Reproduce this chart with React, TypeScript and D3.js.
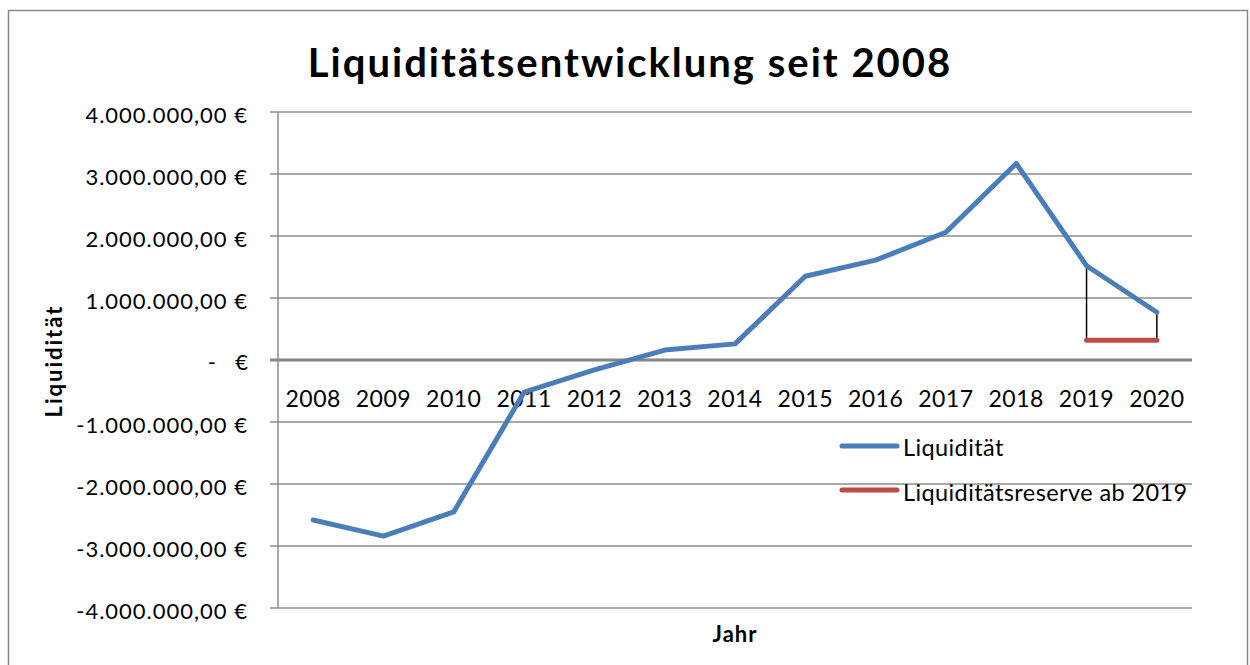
import React from "react";
import * as d3 from "d3";

const years = ["2008","2009","2010","2011","2012","2013","2014","2015","2016","2017","2018","2019","2020"];
const liquiditaet = [-2580000, -2840000, -2450000, -520000, -160000, 160000, 260000, 1350000, 1610000, 2060000, 3170000, 1520000, 770000];
const reserve: (number | null)[] = [null, null, null, null, null, null, null, null, null, null, null, 320000, 320000];
const yTicks = [4000000, 3000000, 2000000, 1000000, 0, -1000000, -2000000, -3000000, -4000000];
const seriesNames = ["Liquidität", "Liquiditätsreserve ab 2019"];

const W = 1250, H = 665;
const plot = { left: 278, right: 1192, top: 112, bottom: 608 };
const FONT = "Lato, 'DejaVu Sans', sans-serif";
const BLUE = "#4A7EBB";
const RED = "#BE4B48";
const GRID = "#8c8c8c";

function fmt(v: number) {
  if (v === 0) return null;
  const s = d3.format(",.2f")(Math.abs(v)).replace(/,/g, "#").replace(".", ",").replace(/#/g, ".");
  return (v < 0 ? "-" : "") + s + " €";
}

export default function App() {
  const x = d3.scaleBand().domain(years).range([plot.left, plot.right]);
  const y = d3.scaleLinear().domain([-4000000, 4000000]).range([plot.bottom, plot.top]);
  const cx = (yr: string) => (x(yr) ?? 0) + x.bandwidth() / 2;

  const line = d3.line<number>().x((_, i) => cx(years[i])).y((d) => y(d));
  const resLine = d3
    .line<number | null>()
    .defined((d) => d !== null)
    .x((_, i) => cx(years[i]))
    .y((d) => y(d as number));

  return (
    <svg width={W} height={H} style={{ position: "absolute", left: 0, top: 0, background: "#fff" }} fontFamily={FONT}>
      <rect x={0} y={0} width={W} height={H} fill="#fff" />
      <rect x={8.5} y={10.5} width={1239} height={H + 10} fill="none" stroke="#888" strokeWidth={1.5} />
      <text x={630} y={77} textAnchor="middle" fontSize={40} fontWeight="bold" letterSpacing={2} fill="#000">
        Liquiditätsentwicklung seit 2008
      </text>

      {/* grid lines */}
      {yTicks.map((t) => (
        <line
          key={t}
          x1={plot.left - 8}
          x2={plot.right}
          y1={y(t)}
          y2={y(t)}
          stroke={t === 0 ? "#848484" : GRID}
          strokeWidth={t === 0 ? 3 : 1.5}
        />
      ))}
      <line x1={plot.left} x2={plot.left} y1={plot.top} y2={plot.bottom} stroke={GRID} strokeWidth={1.5} />

      {/* y tick labels */}
      {yTicks.map((t) =>
        t === 0 ? (
          <g key={t} fontSize={22} fill="#000">
            <text x={216} y={y(t) + 10} textAnchor="end">-</text>
            <text x={248} y={y(t) + 10} textAnchor="end">€</text>
          </g>
        ) : (
          <text key={t} x={248} y={y(t) + 11} textAnchor="end" fontSize={22} letterSpacing={1} fill="#000">
            {fmt(t)}
          </text>
        )
      )}

      {/* category labels */}
      {years.map((yr) => (
        <text key={yr} x={cx(yr)} y={407} textAnchor="middle" fontSize={23} letterSpacing={0.5} fill="#000">
          {yr}
        </text>
      ))}

      {/* axis titles */}
      <text x={0} y={0} transform={`translate(62,361) rotate(-90)`} textAnchor="middle" fontSize={22} letterSpacing={2} fontWeight="bold">
        Liquidität
      </text>
      <text x={(plot.left + plot.right) / 2} y={642} textAnchor="middle" fontSize={22} letterSpacing={1} fontWeight="bold">
        Jahr
      </text>

      {/* high-low lines */}
      {years.map((yr, i) =>
        reserve[i] !== null ? (
          <line key={yr} x1={cx(yr)} x2={cx(yr)} y1={y(liquiditaet[i])} y2={y(reserve[i] as number)} stroke="#000" strokeWidth={1.5} />
        ) : null
      )}

      <path d={line(liquiditaet) ?? ""} fill="none" stroke={BLUE} strokeWidth={5} strokeLinejoin="round" strokeLinecap="round" />
      <path d={resLine(reserve) ?? ""} fill="none" stroke={RED} strokeWidth={5} strokeLinecap="round" />

      {/* legend */}
      {seriesNames.map((n, i) => (
        <g key={n}>
          <line x1={842} x2={897} y1={446 + i * 44} y2={446 + i * 44} stroke={i === 0 ? BLUE : RED} strokeWidth={5} strokeLinecap="round" />
          <text x={903} y={456 + i * 45} fontSize={23.5} letterSpacing={0.4} fill="#000">
            {n}
          </text>
        </g>
      ))}
    </svg>
  );
}
